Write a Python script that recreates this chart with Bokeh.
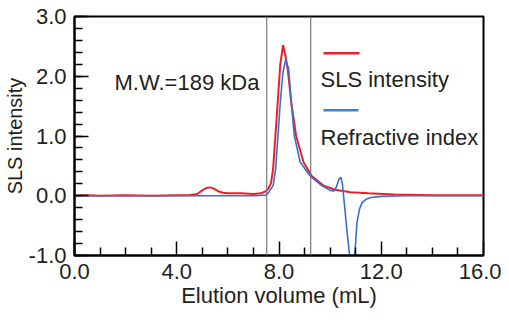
import math
from bokeh.plotting import figure
from bokeh.models import (FixedTicker, PrintfTickFormatter, Label, BoxAnnotation,
                          Span, Range1d)
from bokeh.embed import file_html
from bokeh.resources import INLINE

# ---- data ----
sls_x = [0.0, 0.5, 1.0, 2.0, 3.0, 4.0, 4.5, 4.8, 5.0, 5.15, 5.3, 5.45, 5.6, 5.8, 6.0,
         6.5, 7.0, 7.3, 7.5, 7.6, 7.69, 7.77, 7.86, 7.95, 8.05, 8.16, 8.25, 8.34,
         8.48, 8.67, 8.96, 9.28, 9.74, 10.2, 10.8, 11.5, 12.5, 14.0, 16.0]
sls_y = [0.0, 0.01, 0.0, 0.01, 0.0, 0.01, 0.01, 0.03, 0.09, 0.13, 0.14, 0.12, 0.08,
         0.05, 0.04, 0.04, 0.03, 0.04, 0.08, 0.13, 0.22, 0.45, 1.0, 1.56, 2.2, 2.52,
         2.35, 2.12, 1.56, 1.0, 0.56, 0.33, 0.17, 0.1, 0.06, 0.04, 0.02, 0.01, 0.01]

ri_x = [0.0, 2.0, 4.0, 6.0, 7.0, 7.5, 7.6, 7.77, 7.87, 7.96, 8.05, 8.15, 8.26, 8.38,
        8.48, 8.6, 8.83, 9.22, 9.67, 10.0, 10.15, 10.25, 10.35, 10.42, 10.48, 10.55,
        10.65, 10.75, 10.85, 10.92, 10.98, 11.05, 11.15, 11.25, 11.4, 11.6, 12.0,
        13.0, 16.0]
ri_y = [0.0, 0.0, 0.0, 0.0, 0.0, 0.01, 0.06, 0.17, 0.45, 1.0, 1.56, 2.05, 2.28, 2.12,
        1.56, 1.0, 0.56, 0.33, 0.17, 0.09, 0.08, 0.15, 0.28, 0.31, 0.2, -0.1, -0.55,
        -0.95, -1.3, -1.3, -0.9, -0.45, -0.22, -0.12, -0.06, -0.03, -0.01, 0.0, 0.0]

peak_bounds = [7.52, 9.24]
x_major = [0, 4, 8, 12, 16]
x_minor = [1, 2, 3, 5, 6, 7, 9, 10, 11, 13, 14, 15]
y_major = [-1, 0, 1, 2, 3]
y_minor = [round(-1 + 0.2 * i, 1) for i in range(21)]
mw_text = "M.W.=189 kDa"
legend_names = ["SLS intensity", "Refractive index"]
x_title = "Elution volume (mL)"
y_title = "SLS intensity"

RED = "#e8202a"
BLUE = "#3b6fcf"
TXT = "#231f20"
FONT = "Liberation Sans"
FS = "22px"

p = figure(width=501, height=318, output_backend="svg", toolbar_location=None,
           x_range=Range1d(0, 16), y_range=Range1d(-1, 3),
           min_border_left=71, min_border_right=18, min_border_top=16,
           min_border_bottom=63)
p.background_fill_color = "white"
p.border_fill_color = "white"
p.grid.visible = False
p.outline_line_color = "black"
p.outline_line_width = 2

for ax in (p.xaxis[0], p.yaxis[0]):
    ax.axis_line_width = 2
    ax.major_tick_in = 14
    ax.major_tick_out = 0
    ax.minor_tick_in = 8
    ax.minor_tick_out = 0
    ax.major_tick_line_width = 1.5
    ax.minor_tick_line_width = 1.5
    ax.major_label_text_font = FONT
    ax.major_label_text_font_size = FS
    ax.major_label_text_color = TXT
    ax.axis_label_text_font = FONT
    ax.axis_label_text_font_style = "normal"
    ax.axis_label_text_color = TXT
    ax.formatter = PrintfTickFormatter(format="%.1f")

p.xaxis[0].ticker = FixedTicker(ticks=x_major, minor_ticks=x_minor)
p.yaxis[0].ticker = FixedTicker(ticks=y_major, minor_ticks=y_minor)
p.xaxis[0].major_label_standoff = 8
p.yaxis[0].major_label_standoff = 8
p.xaxis[0].axis_label = x_title
p.xaxis[0].axis_label_text_font_size = FS
p.xaxis[0].axis_label_standoff = 1
p.yaxis[0].axis_label = y_title
p.yaxis[0].axis_label_text_font_size = "20px"
p.yaxis[0].axis_label_standoff = 0

for b in peak_bounds:
    p.add_layout(Span(location=b, dimension="height", line_color="#7a7a7a",
                      line_width=1.2))

p.line(sls_x, sls_y, line_color=RED, line_width=2)
p.line(ri_x, ri_y, line_color=BLUE, line_width=1.6)

# text annotations (screen units relative to the frame's bottom-left)
p.add_layout(Label(x=40, y=173, x_units="screen", y_units="screen", text=mw_text,
                   text_font=FONT, text_font_size=FS, text_color=TXT,
                   text_baseline="alphabetic"))

p.add_layout(BoxAnnotation(left=249, right=285, bottom=201, top=203.5,
                           left_units="screen", right_units="screen",
                           bottom_units="screen", top_units="screen",
                           fill_color=RED, fill_alpha=1, line_alpha=0))
p.add_layout(Label(x=246, y=176, x_units="screen", y_units="screen",
                   text=legend_names[0], text_font=FONT, text_font_size=FS,
                   text_color=TXT, text_baseline="alphabetic"))
p.add_layout(BoxAnnotation(left=249, right=284, bottom=144, top=146.5,
                           left_units="screen", right_units="screen",
                           bottom_units="screen", top_units="screen",
                           fill_color="#2f86d6", fill_alpha=1, line_alpha=0))
p.add_layout(Label(x=246, y=118, x_units="screen", y_units="screen",
                   text=legend_names[1], text_font=FONT, text_font_size=FS,
                   text_color=TXT, text_baseline="alphabetic"))

open("out.html", "w").write(file_html(p, INLINE))
